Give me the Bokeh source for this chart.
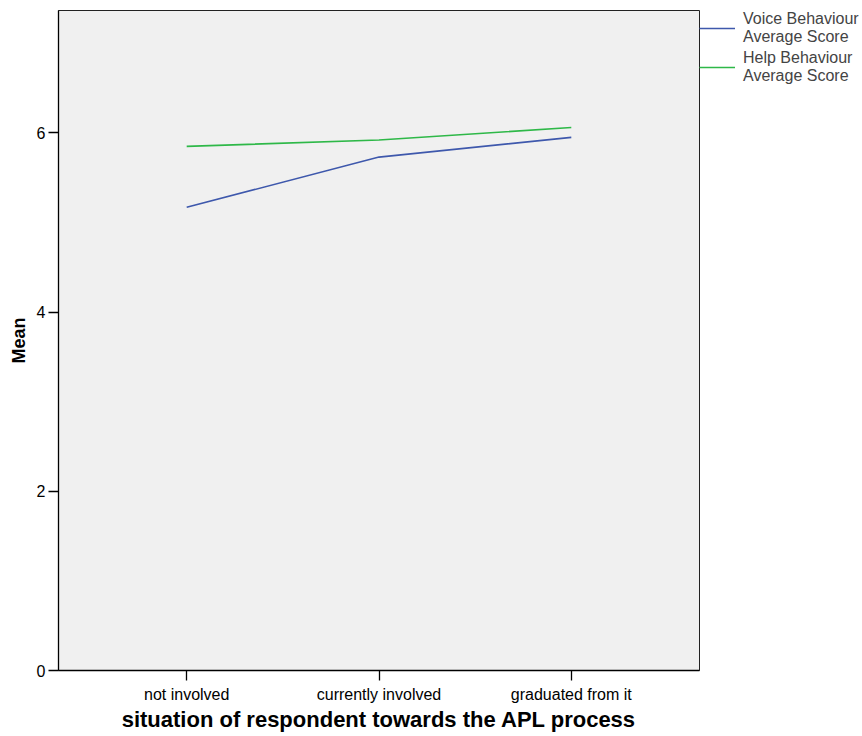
from bokeh.plotting import figure
from bokeh.models import Range1d, FixedTicker, Legend, LegendItem
from bokeh.embed import file_html
from bokeh.resources import INLINE

categories = ["not involved", "currently involved", "graduated from it"]
voice = [5.17, 5.73, 5.95]
helpb = [5.85, 5.92, 6.06]
y_ticks = [0, 2, 4, 6]

xs = [1, 2, 3]
FONT = "Liberation Sans"

p = figure(width=846, height=728, output_backend="svg", toolbar_location=None,
           x_range=Range1d(1/3, 11/3), y_range=Range1d(0, 7.366),
           min_border_left=58, min_border_right=147, min_border_top=10, min_border_bottom=20)
p.frame_width = 641
p.frame_height = 660
p.background_fill_color = "#f0f0f0"
p.border_fill_color = "white"
p.outline_line_color = "#222222"
p.outline_line_width = 1
p.xgrid.visible = False
p.ygrid.visible = False

r1 = p.line(xs, voice, line_color="#3E58AC", line_width=1.6)
r2 = p.line(xs, helpb, line_color="#2EB848", line_width=1.6)

p.xaxis.ticker = FixedTicker(ticks=xs)
p.xaxis.major_label_overrides = {x: c for x, c in zip(xs, categories)}
p.yaxis.ticker = FixedTicker(ticks=y_ticks)
p.xaxis.minor_tick_line_color = None
p.yaxis.minor_tick_line_color = None
for ax in (p.xaxis[0], p.yaxis[0]):
    ax.major_tick_in = 0
    ax.major_tick_out = 10
    ax.major_tick_line_color = "black"
    ax.major_tick_line_width = 1.3
    ax.axis_line_color = "black"
    ax.axis_line_width = 1.3
    ax.major_label_text_font = FONT
    ax.major_label_text_font_size = "16px"
    ax.major_label_text_color = "black"
    ax.axis_label_text_font = FONT
    ax.axis_label_text_font_style = "bold"
    ax.axis_label_text_color = "black"
p.yaxis.major_label_standoff = 3
p.xaxis.major_label_standoff = 5
p.xaxis.axis_label = "situation of respondent towards the APL process"
p.xaxis.axis_label_text_font_size = "22px"
p.xaxis.axis_label_standoff = 1
p.yaxis.axis_label = "Mean"
p.yaxis.axis_label_text_font_size = "18px"
p.yaxis.axis_label_standoff = 5

legend = Legend(items=[LegendItem(label="Voice Behaviour\nAverage Score", renderers=[r1]),
                       LegendItem(label="Help Behaviour\nAverage Score", renderers=[r2])],
                location="top_left", margin=0, padding=0, spacing=3,
                glyph_width=36, label_standoff=8,
                label_text_font=FONT, label_text_font_size="16px",
                label_text_line_height=0.88,
                border_line_color=None, background_fill_alpha=0)
p.add_layout(legend, "right")

open("out.html", "w").write(file_html(p, INLINE))
